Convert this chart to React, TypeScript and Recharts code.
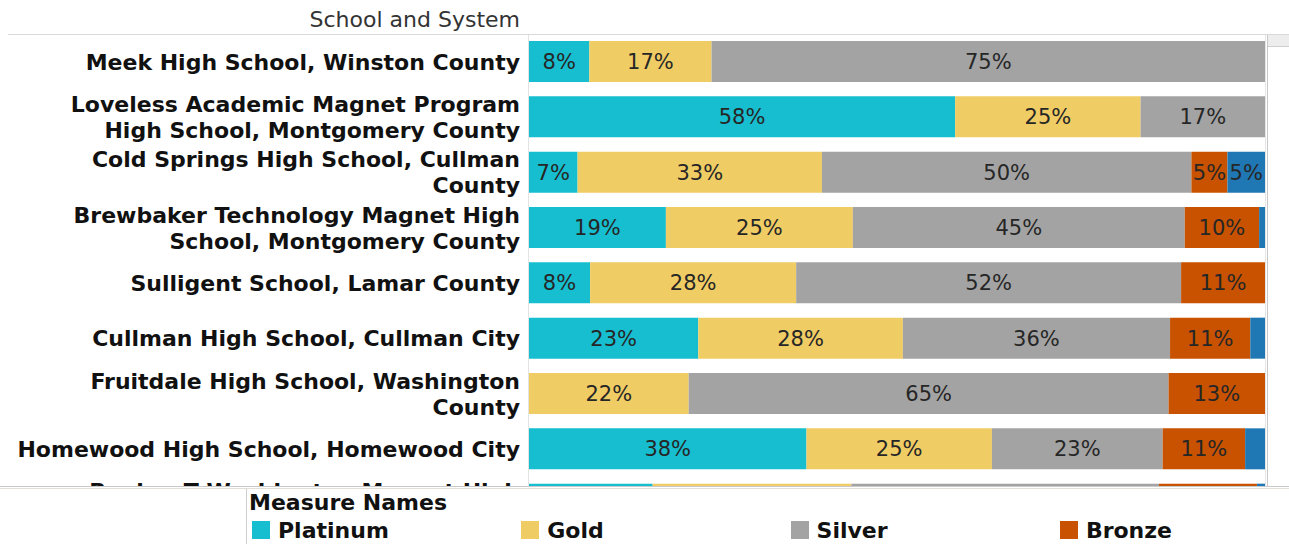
import { BarChart, Bar, XAxis, YAxis, LabelList } from "recharts";

// Share of students per medal level, by school (percent of row total)
const schools = [
  "Meek High School, Winston County",
  "Loveless Academic Magnet Program High School, Montgomery County",
  "Cold Springs High School, Cullman County",
  "Brewbaker Technology Magnet High School, Montgomery County",
  "Sulligent School, Lamar County",
  "Cullman High School, Cullman City",
  "Fruitdale High School, Washington County",
  "Homewood High School, Homewood City",
  "Booker T Washington Magnet High School, Montgomery County",
];
const platinum = [8.2, 57.9, 6.6, 18.6, 8.3, 23.0, 0, 37.7, 16.8];
const gold = [16.6, 25.2, 33.2, 25.4, 28.0, 27.8, 21.7, 25.2, 27.0];
const silver = [75.2, 16.9, 50.2, 45.1, 52.3, 36.3, 65.2, 23.2, 41.8];
const bronze = [0, 0, 4.9, 10.1, 11.4, 10.9, 13.1, 11.2, 13.3];
const other = [0, 0, 5.1, 0.8, 0, 2.0, 0, 2.7, 1.1];

const series = [
  { key: "platinum", name: "Platinum", color: "#17BECF", legend: true },
  { key: "gold", name: "Gold", color: "#F0CC65", legend: true },
  { key: "silver", name: "Silver", color: "#A3A3A3", legend: true },
  { key: "bronze", name: "Bronze", color: "#C85200", legend: true },
  { key: "other", name: "Other", color: "#1F77B4", legend: false },
];

const rows = schools.map((school, i) => ({
  school,
  platinum: platinum[i],
  gold: gold[i],
  silver: silver[i],
  bronze: bronze[i],
  other: other[i],
}));

const FONT = "'DejaVu Sans', sans-serif";
const LABEL_RIGHT = 520;

// word-wrap the row headers like the source table does
let measureCtx: CanvasRenderingContext2D | null = null;
function wrapText(text: string, maxW: number): string[] {
  if (!measureCtx) measureCtx = document.createElement("canvas").getContext("2d");
  const ctx = measureCtx!;
  ctx.font = "bold 22px 'DejaVu Sans'";
  const lines: string[] = [];
  let cur = "";
  for (const w of text.split(" ")) {
    const t = cur ? cur + " " + w : w;
    if (cur && ctx.measureText(t).width > maxW) {
      lines.push(cur);
      cur = w;
    } else cur = t;
  }
  if (cur) lines.push(cur);
  return lines;
}

function SchoolTick(props: any) {
  const { y, payload } = props;
  const lines = wrapText(String(payload.value), 512);
  const lh = 26;
  const y0 = y - ((lines.length - 1) * lh) / 2 + 8;
  return (
    <text textAnchor="end" fontFamily={FONT} fontSize={22} fontWeight="bold" fill="#111">
      {lines.map((l, i) => (
        <tspan key={i} x={LABEL_RIGHT} y={y0 + i * lh}>
          {l}
        </tspan>
      ))}
    </text>
  );
}

function PctLabel(props: any) {
  const { x, y, width, height, value } = props;
  if (!value || Number(width) < 25) return null;
  return (
    <text
      x={Number(x) + Number(width) / 2}
      y={Number(y) + Number(height) / 2 + 7.5}
      textAnchor="middle"
      fontFamily={FONT}
      fontSize={21}
      fill="#262626"
    >
      {Math.round(Number(value))}%
    </text>
  );
}

const line = (s: React.CSSProperties) => <div style={{ position: "absolute", ...s }} />;

export default function App() {
  return (
    <div
      style={{
        position: "relative",
        width: 1289,
        height: 544,
        overflow: "hidden",
        background: "#fff",
        fontFamily: FONT,
      }}
    >
      <style>{`body{margin:0;overflow:hidden}`}</style>

      <div
        style={{
          position: "absolute",
          left: 0,
          top: 7,
          width: LABEL_RIGHT,
          textAlign: "right",
          fontSize: 22,
          lineHeight: "26px",
          color: "#333",
        }}
      >
        School and System
      </div>

      {/* scrolled pane: rows below the fold are clipped */}
      <div style={{ position: "absolute", left: 0, top: 34, width: 1266, height: 452, overflow: "hidden" }}>
        <BarChart
          layout="vertical"
          width={1265}
          height={498}
          data={rows}
          margin={{ top: 0, right: 0, bottom: 0, left: 0 }}
        >
          <XAxis type="number" domain={[0, 100]} hide />
          <YAxis
            type="category"
            dataKey="school"
            width={529}
            axisLine={false}
            tickLine={false}
            interval={0}
            tick={<SchoolTick />}
          />
          {series.map((s) => (
            <Bar key={s.key} dataKey={s.key} name={s.name} stackId="a" fill={s.color} barSize={41} isAnimationActive={false}>
              <LabelList dataKey={s.key} content={PctLabel} />
            </Bar>
          ))}
        </BarChart>
      </div>

      {line({ left: 8, top: 34, width: 1281, height: 1, background: "#d9d9d9" })}
      {line({ left: 528, top: 35, width: 1, height: 451, background: "#e3e3e3" })}
      {line({ left: 1265, top: 35, width: 1, height: 451, background: "#e6e6e6" })}
      {/* vertical scrollbar */}
      {line({ left: 1267, top: 35, width: 1, height: 451, background: "#c8c8c8" })}
      {line({ left: 1268, top: 35, width: 21, height: 11, background: "#ededed", borderBottom: "1px solid #cfcfcf" })}
      {line({ left: 0, top: 486, width: 1289, height: 1, background: "#c9c9c9" })}
      {line({ left: 0, top: 488, width: 1289, height: 1, background: "#e2dfd8" })}

      {/* legend panel */}
      {line({ left: 246, top: 489, width: 1, height: 55, background: "#cfcfcf" })}
      <div
        style={{
          position: "absolute",
          left: 249,
          top: 490,
          fontSize: 22,
          lineHeight: "26px",
          fontWeight: "bold",
          color: "#111",
        }}
      >
        Measure Names
      </div>
      {series
        .filter((s) => s.legend)
        .map((s, i) => (
          <div
            key={s.key}
            style={{
              position: "absolute",
              left: 252 + i * 269.3,
              top: 517,
              height: 26,
              display: "flex",
              alignItems: "center",
              fontSize: 22,
              fontWeight: "bold",
              color: "#111",
            }}
          >
            <span style={{ width: 18, height: 18, background: s.color, marginRight: 8, display: "inline-block" }} />
            {s.name}
          </div>
        ))}
    </div>
  );
}
